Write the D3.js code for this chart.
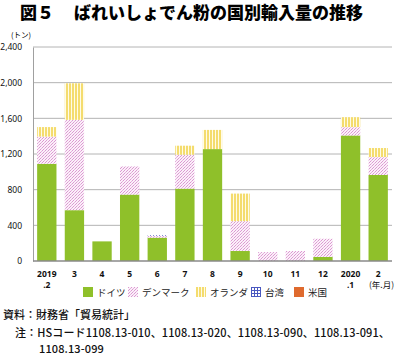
<!DOCTYPE html>
<html><head><meta charset="utf-8">
<script src="https://cdn.jsdelivr.net/npm/d3@7"></script>
<style>
body{margin:0;background:#fff;}
svg{display:block;font-family:"Noto Sans CJK JP","Noto Sans",sans-serif;}
</style></head><body>
<svg id="c" width="394" height="355"></svg>
<script>
const categories = ["2019|.2","3","4","5","6","7","8","9","10","11","12","2020|.1","2"];
const germany     = [1090, 570, 220, 745, 262, 812, 1255, 112,   0,   0,  45, 1408, 965];
const denmark     = [ 305,1013,   0, 317,  18, 380,    0, 335, 100, 112, 205,   94, 201];
const netherlands = [ 107, 410,   0,   0,   0, 101,  215, 309,   0,   0,   0,  111, 101];
const taiwan      = [   0,   0,   0,   0,   8,   0,    0,   0,   0,   0,   0,    0,   0];
const usa         = [   0,   0,   0,   0,   0,   0,    0,   0,   0,   0,   0,    0,   0];
const seriesNames = ["ドイツ","デンマーク","オランダ","台湾","米国"];
const yTicks = [0,400,800,1200,1600,2000,2400];

const svg = d3.select("#c");
const defs = svg.append("defs");
// patterns
const pDen = defs.append("pattern").attr("id","pDen").attr("patternUnits","userSpaceOnUse").attr("width",3).attr("height",3);
pDen.append("rect").attr("width",3).attr("height",3).attr("fill","#fbf0f9");
pDen.append("rect").attr("x",0).attr("y",0).attr("width",1).attr("height",1).attr("fill","#dc98d2");
pDen.append("rect").attr("x",2).attr("y",1).attr("width",1).attr("height",1).attr("fill","#e6b2de");
pDen.append("rect").attr("x",1).attr("y",2).attr("width",1).attr("height",1).attr("fill","#dc98d2");
const pNed = defs.append("pattern").attr("id","pNed").attr("patternUnits","userSpaceOnUse").attr("width",3).attr("height",3);
pNed.append("rect").attr("width",3).attr("height",3).attr("fill","#fffbe6");
pNed.append("rect").attr("x",0).attr("width",2).attr("height",3).attr("fill","#f4dc6e");
const pTw = defs.append("pattern").attr("id","pTw").attr("patternUnits","userSpaceOnUse").attr("width",3).attr("height",3);
pTw.append("rect").attr("width",3).attr("height",3).attr("fill","#ffffff");
pTw.append("rect").attr("x",0).attr("width",1).attr("height",3).attr("fill","#4a58c0");
pTw.append("rect").attr("y",0).attr("width",3).attr("height",1).attr("fill","#4a58c0");
const fills = ["#8fc02a","url(#pDen)","url(#pNed)","url(#pTw)","#df6a2e"];

const x = d3.scaleBand().domain(categories).range([33,392]).paddingInner(0.3).paddingOuter(0.15);
const y = d3.scaleLinear().domain([0,2400]).range([261,47]);

// title
svg.append("text").attr("x",20).attr("y",19).attr("font-size",17).attr("font-weight",900).text("図５");
svg.append("text").attr("x",74).attr("y",19).attr("font-size",17).attr("font-weight",900).text("ばれいしょでん粉の国別輸入量の推移");

// unit
svg.append("text").attr("x",11).attr("y",38).attr("font-size",7.5).text("(トン)");

// gridlines
svg.append("g").selectAll("line").data(yTicks.filter(d=>d>0)).join("line")
  .attr("x1",33).attr("x2",392).attr("y1",d=>y(d)).attr("y2",d=>y(d))
  .attr("stroke","#b4b4b4").attr("stroke-width",1);

// y axis
const yAxis = svg.append("g").attr("transform","translate(33,0)")
  .call(d3.axisLeft(y).tickValues(yTicks).tickFormat(d3.format(",")).tickSize(0).tickPadding(11));
yAxis.select(".domain").attr("stroke","#a0a0a0");
yAxis.selectAll("text").attr("font-size",8.5).attr("fill","#111").attr("font-family","'Noto Sans',sans-serif");

// stacked bars
const data = categories.map((c,i)=>({cat:c, v:[germany[i],denmark[i],netherlands[i],taiwan[i],usa[i]]}));
const keys = [0,1,2,3,4];
const stack = d3.stack().keys(keys).value((d,k)=>d.v[k])(data);
svg.append("g").selectAll("g").data(stack).join("g")
  .attr("fill",(d,i)=>fills[i])
  .selectAll("rect").data(d=>d).join("rect")
  .attr("x",d=>x(d.data.cat)).attr("width",x.bandwidth())
  .attr("y",d=>y(d[1])).attr("height",d=>Math.max(0,y(d[0])-y(d[1])));

// baseline
svg.append("line").attr("x1",33).attr("x2",392).attr("y1",y(0)).attr("y2",y(0))
  .attr("stroke","#8a8a8a").attr("stroke-width",1.6);

// x labels
const xl = svg.append("g").selectAll("text").data(categories).join("text")
  .attr("x",d=>x(d)+x.bandwidth()/2).attr("y",277).attr("text-anchor","middle")
  .attr("font-size",8.5).attr("font-weight",700).attr("font-family","'Noto Sans',sans-serif").attr("fill","#111");
xl.each(function(d){
  const parts = d.split("|");
  const t = d3.select(this);
  t.append("tspan").attr("x",x(d)+x.bandwidth()/2).text(parts[0]);
  if(parts[1]) t.append("tspan").attr("x",x(d)+x.bandwidth()/2).attr("dy",11).text(parts[1]);
});
svg.append("text").attr("x",394).attr("y",288).attr("text-anchor","end").attr("font-size",8.5).attr("fill","#111").text("(年.月)");

// legend
const legX = [83,128,196,251,294];
const lg = svg.append("g").selectAll("g").data(seriesNames).join("g")
  .attr("transform",(d,i)=>`translate(${legX[i]},287)`);
lg.append("rect").attr("width",10).attr("height",10).attr("fill",(d,i)=>fills[i]);
lg.append("text").attr("x",14).attr("y",9).attr("font-size",9.5).attr("fill","#222").text(d=>d);

// footer
const ft = svg.append("g").attr("font-size",11).attr("font-weight",500).attr("fill","#111");
ft.append("text").attr("x",3).attr("y",319).text("資料：財務省「貿易統計」");
ft.append("text").attr("x",15).attr("y",337).attr("letter-spacing",0.12).text("注：HSコード1108.13-010、1108.13-020、1108.13-090、1108.13-091、");
ft.append("text").attr("x",39).attr("y",353).attr("letter-spacing",0.12).text("1108.13-099");
</script>
</body></html>
